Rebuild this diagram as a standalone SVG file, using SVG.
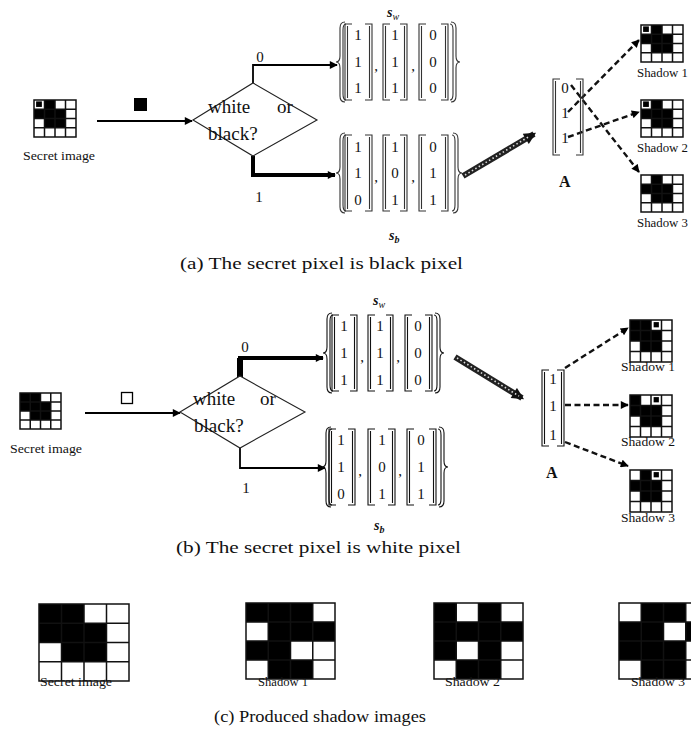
<svg xmlns="http://www.w3.org/2000/svg" xmlns:xlink="http://www.w3.org/1999/xlink" width="691" height="731" viewBox="0 0 691 731">
<style>
text{font-family:"Liberation Serif","Times New Roman",serif;fill:#111}
.lbl{font-size:11.5px}
.cap{font-size:17px}
.num{font-size:15px;text-anchor:middle}
.dia{font-size:19px}
.g path{fill:none;stroke:#111;stroke-width:1.5}
.g rect{fill:#000}
.br{fill:none;stroke:#333;stroke-width:1.1}
.ln{fill:none;stroke:#000;stroke-width:1.8}
.dash{fill:none;stroke:#111;stroke-width:2.4;stroke-dasharray:6 3.5}
.hat{fill:none;stroke:#222;stroke-width:6}
.hatw{fill:none;stroke:#ddd;stroke-width:1.6;stroke-dasharray:1.5 2.5}
.shape{fill:#fff;stroke:#222;stroke-width:1.1}
</style>
<defs>
<marker id="ah" viewBox="0 0 10 10" refX="9" refY="5" markerWidth="10" markerHeight="8" markerUnits="userSpaceOnUse" orient="auto"><path d="M0 0L10 5L0 10z" fill="#000"/></marker>
<marker id="ahb" viewBox="0 0 10 10" refX="8" refY="5" markerWidth="14" markerHeight="12" markerUnits="userSpaceOnUse" orient="auto"><path d="M0 0L10 5L0 10z" fill="#111"/></marker>
<path id="lbr" d="M7 0H0V76H7M2.5 2V74"/>
<path id="rbr" d="M0 0H7V76H0M4.5 2V74"/>
<path id="lbrace" d="M9 0Q4 0 4 6V34Q4 40 0 40Q4 40 4 46V74Q4 80 9 80M10 2Q7 2 7 8V72Q7 78 10 78"/>
<path id="rbrace" d="M0 0Q5 0 5 6V34Q5 40 9 40Q5 40 5 46V74Q5 80 0 80M-1 2Q2 2 2 8V72Q2 78 -1 78"/>
</defs>
<rect width="691" height="731" fill="#fff"/>

<!-- connectors -->
<g id="connectors">
  <line class="ln" x1="97" y1="121" x2="192" y2="121" marker-end="url(#ah)"/>
  <polyline class="ln" points="253,83 253,65 337,65" marker-end="url(#ah)"/>
  <polyline class="ln" points="253,156 253,175 335,175" style="stroke-width:4" marker-end="url(#ah)"/>
  <line class="hat" x1="463" y1="176" x2="534" y2="134" marker-end="url(#ahb)"/>
  <line class="hatw" x1="465" y1="175" x2="530" y2="136"/>
  <line class="dash" x1="571" y1="85" x2="639" y2="172" marker-end="url(#ah)"/>
  <line class="dash" x1="568" y1="112" x2="639" y2="40" marker-end="url(#ah)"/>
  <line class="dash" x1="568" y1="137" x2="639" y2="112" marker-end="url(#ah)"/>

  <line class="ln" x1="85" y1="413" x2="180" y2="413" marker-end="url(#ah)"/>
  <polyline class="ln" points="240,376 240,358 323,358" style="stroke-width:4" marker-end="url(#ah)"/>
  <line class="ln" x1="240" y1="377" x2="240" y2="358" style="stroke-width:6"/>
  <polyline class="ln" points="240,448 240,468 325,468" marker-end="url(#ah)"/>
  <line class="hat" x1="455" y1="357" x2="522" y2="398" marker-end="url(#ahb)"/>
  <line class="hatw" x1="457" y1="358" x2="519" y2="396"/>
  <line class="dash" x1="565" y1="368" x2="628" y2="328" marker-end="url(#ah)"/>
  <line class="dash" x1="565" y1="405" x2="628" y2="405" marker-end="url(#ah)"/>
  <line class="dash" x1="565" y1="442" x2="628" y2="466" marker-end="url(#ah)"/>
</g>

<!-- (a) -->
<g id="a-secret">
  <g class="g" transform="translate(34,100) scale(10.5,9.25)">
    <rect x="1" y="0" width="1" height="1"/><rect x="0" y="1" width="3" height="1"/><rect x="1" y="2" width="2" height="1"/><rect x="0.2" y="0.15" width="0.55" height="0.6"/>
    <path vector-effect="non-scaling-stroke" d="M0 0h4v4h-4zM1 0v4M2 0v4M3 0v4M0 1h4M0 2h4M0 3h4"/>
  </g>
  <text class="lbl" x="23" y="160" textLength="72" lengthAdjust="spacingAndGlyphs">Secret image</text>
</g>
<g id="a-pixel"><rect x="134" y="98" width="13" height="13" fill="#000"/></g>
<g id="a-decision">
  <polygon class="shape" points="193,120 253,83 317,120 253,156"/>
  <text class="dia" x="208" y="113">white</text>
  <text class="dia" x="277" y="113">or</text>
  <text class="dia" x="208" y="140">black?</text>
  <text class="num" x="260" y="62">0</text>
  <text class="num" x="259" y="202">1</text>
</g>
<g id="a-sw" class="br">
  <text x="387" y="17" style="font-size:14px;font-weight:bold;font-style:italic;stroke:none">s<tspan dy="3" style="font-size:10px;font-weight:normal">w</tspan></text>
  <use href="#lbrace" x="336" y="22"/>
  <use href="#lbr" x="345" y="24"/><use href="#rbr" x="365" y="24"/>
  <use href="#lbr" x="383" y="24"/><use href="#rbr" x="400" y="24"/>
  <use href="#lbr" x="419" y="24"/><use href="#rbr" x="441" y="24"/>
  <use href="#rbrace" x="451" y="22"/>
  <g style="fill:#333;stroke:none">
  <text class="num" x="358" y="40">1</text><text class="num" x="358" y="67">1</text><text class="num" x="358" y="93">1</text>
  <text class="num" x="395" y="40">1</text><text class="num" x="395" y="67">1</text><text class="num" x="395" y="93">1</text>
  <text class="num" x="433" y="40">0</text><text class="num" x="433" y="67">0</text><text class="num" x="433" y="93">0</text>
  <text class="num" x="376" y="71">,</text><text class="num" x="413" y="71">,</text>
  </g>
</g>
<g id="a-sb" class="br">
  <use href="#lbrace" x="336" y="133"/>
  <use href="#lbr" x="345" y="135"/><use href="#rbr" x="365" y="135"/>
  <use href="#lbr" x="383" y="135"/><use href="#rbr" x="400" y="135"/>
  <use href="#lbr" x="419" y="135"/><use href="#rbr" x="441" y="135"/>
  <use href="#rbrace" x="453" y="133"/>
  <g style="fill:#333;stroke:none">
  <text class="num" x="358" y="152">1</text><text class="num" x="358" y="178">1</text><text class="num" x="358" y="205">0</text>
  <text class="num" x="395" y="152">1</text><text class="num" x="395" y="178">0</text><text class="num" x="395" y="205">1</text>
  <text class="num" x="433" y="152">0</text><text class="num" x="433" y="178">1</text><text class="num" x="433" y="205">1</text>
  <text class="num" x="376" y="182">,</text><text class="num" x="413" y="182">,</text>
  </g>
  <text x="389" y="240" style="font-size:14px;font-weight:bold;font-style:italic;fill:#111;stroke:none">s<tspan dy="3" style="font-size:10px">b</tspan></text>
</g>
<g id="a-A" class="br">
  <use href="#lbr" x="553" y="79"/><use href="#rbr" x="576" y="79"/>
  <g style="fill:#222;stroke:none">
  <text class="num" x="565" y="93">0</text><text class="num" x="565" y="118">1</text><text class="num" x="565" y="143">1</text>
  <text x="559" y="187" style="font-size:16px;font-weight:bold">A</text>
  </g>
</g>
<g id="a-shadow1">
  <g class="g" transform="translate(641,25) scale(10.5,9.25)">
    <rect x="1" y="0" width="1" height="1"/><rect x="0" y="1" width="3" height="1"/><rect x="1" y="2" width="2" height="1"/><rect x="0.2" y="0.15" width="0.55" height="0.6"/>
    <path vector-effect="non-scaling-stroke" d="M0 0h4v4h-4zM1 0v4M2 0v4M3 0v4M0 1h4M0 2h4M0 3h4"/>
  </g>
  <text class="lbl" x="637" y="77" textLength="51" lengthAdjust="spacingAndGlyphs">Shadow 1</text>
</g>
<g id="a-shadow2">
  <g class="g" transform="translate(641,100) scale(10.5,9.25)">
    <rect x="1" y="0" width="1" height="1"/><rect x="0" y="1" width="3" height="1"/><rect x="1" y="2" width="2" height="1"/><rect x="0.2" y="0.15" width="0.55" height="0.6"/>
    <path vector-effect="non-scaling-stroke" d="M0 0h4v4h-4zM1 0v4M2 0v4M3 0v4M0 1h4M0 2h4M0 3h4"/>
  </g>
  <text class="lbl" x="637" y="152" textLength="51" lengthAdjust="spacingAndGlyphs">Shadow 2</text>
</g>
<g id="a-shadow3">
  <g class="g" transform="translate(641,175) scale(10.5,9.25)">
    <rect x="1" y="0" width="1" height="1"/><rect x="0" y="1" width="3" height="1"/><rect x="1" y="2" width="2" height="1"/>
    <path vector-effect="non-scaling-stroke" d="M0 0h4v4h-4zM1 0v4M2 0v4M3 0v4M0 1h4M0 2h4M0 3h4"/>
  </g>
  <text class="lbl" x="637" y="227" textLength="51" lengthAdjust="spacingAndGlyphs">Shadow 3</text>
</g>
<text class="cap" x="180" y="269" textLength="283" lengthAdjust="spacingAndGlyphs">(a) The secret pixel is black pixel</text>

<!-- (b) -->
<g id="b-secret">
  <g class="g" transform="translate(20,393) scale(10.25,9)">
    <rect x="0" y="0" width="2" height="1"/><rect x="0" y="1" width="3" height="1"/><rect x="1" y="2" width="2" height="1"/>
    <path vector-effect="non-scaling-stroke" d="M0 0h4v4h-4zM1 0v4M2 0v4M3 0v4M0 1h4M0 2h4M0 3h4"/>
  </g>
  <text class="lbl" x="10" y="453" textLength="72" lengthAdjust="spacingAndGlyphs">Secret image</text>
</g>
<g id="b-pixel"><rect x="121.5" y="392.5" width="11" height="11" fill="#fff" stroke="#000" stroke-width="1.3"/></g>
<g id="b-decision">
  <polygon class="shape" points="180,412 240,376 305,412 240,448"/>
  <text class="dia" x="193" y="405">white</text>
  <text class="dia" x="260" y="405">or</text>
  <text class="dia" x="194" y="432">black?</text>
  <text class="num" x="245" y="352">0</text>
  <text class="num" x="246" y="493">1</text>
</g>
<g id="b-sw" class="br" style="stroke:#111">
  <text x="373" y="305" style="font-size:14px;font-weight:bold;font-style:italic;stroke:none">s<tspan dy="3" style="font-size:10px;font-weight:normal">w</tspan></text>
  <use href="#lbrace" x="323" y="313"/>
  <use href="#lbr" x="332" y="315"/><use href="#rbr" x="350" y="315"/>
  <use href="#lbr" x="368" y="315"/><use href="#rbr" x="386" y="315"/>
  <use href="#lbr" x="405" y="315"/><use href="#rbr" x="425" y="315"/>
  <use href="#rbrace" x="435" y="313"/>
  <g style="stroke:none">
  <text class="num" x="344" y="331">1</text><text class="num" x="344" y="358">1</text><text class="num" x="344" y="385">1</text>
  <text class="num" x="380" y="331">1</text><text class="num" x="380" y="358">1</text><text class="num" x="380" y="385">1</text>
  <text class="num" x="418" y="331">0</text><text class="num" x="418" y="358">0</text><text class="num" x="418" y="385">0</text>
  <text class="num" x="362" y="362">,</text><text class="num" x="398" y="362">,</text>
  </g>
</g>
<g id="b-sb" class="br" style="stroke:#111">
  <use href="#lbrace" x="322" y="427"/>
  <use href="#lbr" x="329" y="429"/><use href="#rbr" x="348" y="429"/>
  <use href="#lbr" x="368" y="429"/><use href="#rbr" x="388" y="429"/>
  <use href="#lbr" x="407" y="429"/><use href="#rbr" x="429" y="429"/>
  <use href="#rbrace" x="439" y="427"/>
  <g style="stroke:none">
  <text class="num" x="341" y="445">1</text><text class="num" x="341" y="472">1</text><text class="num" x="341" y="499">0</text>
  <text class="num" x="382" y="445">1</text><text class="num" x="382" y="472">0</text><text class="num" x="382" y="499">1</text>
  <text class="num" x="421" y="445">0</text><text class="num" x="421" y="472">1</text><text class="num" x="421" y="499">1</text>
  <text class="num" x="360" y="476">,</text><text class="num" x="400" y="476">,</text>
  <text x="374" y="530" style="font-size:14px;font-weight:bold;font-style:italic">s<tspan dy="3" style="font-size:10px">b</tspan></text>
  </g>
</g>
<g id="b-A" class="br" style="stroke:#111">
  <use href="#lbr" x="542" y="370"/><use href="#rbr" x="557" y="370"/>
  <g style="stroke:none">
  <text class="num" x="553" y="384">1</text><text class="num" x="553" y="411">1</text><text class="num" x="553" y="440">1</text>
  <text x="546" y="478" style="font-size:16px;font-weight:bold">A</text>
  </g>
</g>
<g id="b-shadow1">
  <g class="g" transform="translate(630,320) scale(10.5,10.5)">
    <rect x="0" y="0" width="2" height="1"/><rect x="0" y="1" width="3" height="1"/><rect x="1" y="2" width="2" height="1"/><rect x="2.25" y="0.2" width="0.5" height="0.5"/>
    <path vector-effect="non-scaling-stroke" d="M0 0h4v4h-4zM1 0v4M2 0v4M3 0v4M0 1h4M0 2h4M0 3h4"/>
  </g>
  <text class="lbl" x="621" y="371" textLength="54" lengthAdjust="spacingAndGlyphs">Shadow 1</text>
</g>
<g id="b-shadow2">
  <g class="g" transform="translate(630,395) scale(10.5,10.5)">
    <rect x="0" y="0" width="1" height="1"/><rect x="0" y="1" width="3" height="1"/><rect x="1" y="2" width="2" height="1"/><rect x="2.25" y="0.2" width="0.5" height="0.5"/>
    <path vector-effect="non-scaling-stroke" d="M0 0h4v4h-4zM1 0v4M2 0v4M3 0v4M0 1h4M0 2h4M0 3h4"/>
  </g>
  <text class="lbl" x="621" y="446" textLength="54" lengthAdjust="spacingAndGlyphs">Shadow 2</text>
</g>
<g id="b-shadow3">
  <g class="g" transform="translate(630,470) scale(10.5,10.5)">
    <rect x="1" y="0" width="1" height="1"/><rect x="0" y="1" width="3" height="1"/><rect x="1" y="2" width="2" height="1"/><rect x="2.25" y="0.2" width="0.5" height="0.5"/>
    <path vector-effect="non-scaling-stroke" d="M0 0h4v4h-4zM1 0v4M2 0v4M3 0v4M0 1h4M0 2h4M0 3h4"/>
  </g>
  <text class="lbl" x="621" y="522" textLength="54" lengthAdjust="spacingAndGlyphs">Shadow 3</text>
</g>
<text class="cap" x="176" y="553" textLength="285" lengthAdjust="spacingAndGlyphs">(b) The secret pixel is white pixel</text>

<!-- (c) -->
<g id="c-secret">
  <g class="g" transform="translate(39,604) scale(22.5,19.25)">
    <rect x="0" y="0" width="2" height="1"/><rect x="0" y="1" width="3" height="1"/><rect x="1" y="2" width="2" height="1"/>
    <path vector-effect="non-scaling-stroke" d="M0 0h4v4h-4zM1 0v4M2 0v4M3 0v4M0 1h4M0 2h4M0 3h4"/>
  </g>
  <text class="lbl" x="40" y="686" textLength="72" lengthAdjust="spacingAndGlyphs">Secret image</text>
</g>
<g id="c-shadow1">
  <g class="g" transform="translate(246,603) scale(22.25,19)">
    <rect x="0" y="0" width="3" height="1"/><rect x="1" y="1" width="3" height="1"/><rect x="0" y="2" width="2" height="1"/><rect x="1" y="3" width="2" height="1"/>
    <path vector-effect="non-scaling-stroke" d="M0 0h4v4h-4zM1 0v4M2 0v4M3 0v4M0 1h4M0 2h4M0 3h4"/>
  </g>
  <text class="lbl" x="258" y="686" textLength="50" lengthAdjust="spacingAndGlyphs">Shadow 1</text>
</g>
<g id="c-shadow2">
  <g class="g" transform="translate(434,603) scale(22.25,19)">
    <rect x="0" y="0" width="1" height="1"/><rect x="2" y="0" width="1" height="1"/><rect x="0" y="1" width="4" height="1"/><rect x="0" y="2" width="1" height="1"/><rect x="2" y="2" width="1" height="1"/><rect x="1" y="3" width="2" height="1"/>
    <path vector-effect="non-scaling-stroke" d="M0 0h4v4h-4zM1 0v4M2 0v4M3 0v4M0 1h4M0 2h4M0 3h4"/>
  </g>
  <text class="lbl" x="445" y="686" textLength="55" lengthAdjust="spacingAndGlyphs">Shadow 2</text>
</g>
<g id="c-shadow3">
  <g class="g" transform="translate(619,603) scale(22.25,19)">
    <rect x="1" y="0" width="2" height="1"/><rect x="0" y="1" width="2" height="1"/><rect x="3" y="1" width="1" height="1"/><rect x="0" y="2" width="3" height="1"/><rect x="1" y="3" width="2" height="1"/>
    <path vector-effect="non-scaling-stroke" d="M0 0h4v4h-4zM1 0v4M2 0v4M3 0v4M0 1h4M0 2h4M0 3h4"/>
  </g>
  <text class="lbl" x="631" y="686" textLength="54" lengthAdjust="spacingAndGlyphs">Shadow 3</text>
</g>
<text class="cap" x="214" y="722" textLength="212" lengthAdjust="spacingAndGlyphs">(c) Produced shadow images</text>
</svg>
